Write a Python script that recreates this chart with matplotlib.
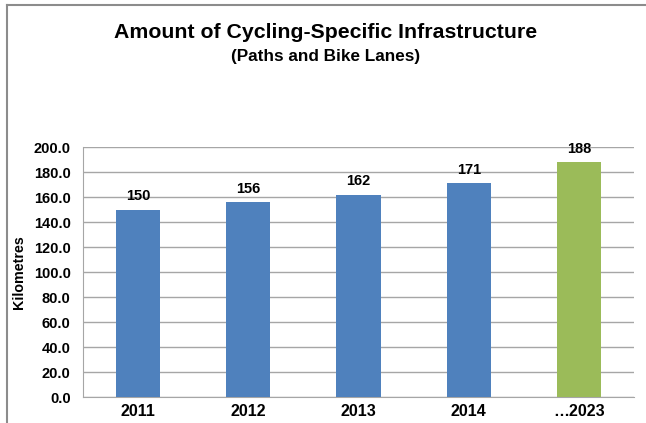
import matplotlib

matplotlib.use("Agg")

import matplotlib.pyplot as plt
from matplotlib.lines import Line2D

years = ["2011", "2012", "2013", "2014", "\u20262023"]
km = [150, 156, 162, 171, 188]
bar_colors = ["#4F81BD", "#4F81BD", "#4F81BD", "#4F81BD", "#9BBB59"]
yticks = [0, 20, 40, 60, 80, 100, 120, 140, 160, 180, 200]

plt.rcParams["font.family"] = ["Liberation Sans", "DejaVu Sans"]

W, H = 646, 423
fig = plt.figure(figsize=(W / 100, H / 100), dpi=100)
ax = fig.add_axes([83 / W, 1 - 397 / H, (634 - 83) / W, 250 / H])

x = range(len(years))
ax.bar(x, km, width=0.4, color=bar_colors, zorder=3)
for xi, v in zip(x, km):
    ax.text(xi, v + 5, f"{v}", ha="center", va="bottom",
            fontsize=10.5, fontweight="bold", zorder=2)

ax.set_xlim(-0.5, len(years) - 0.5)
ax.set_ylim(0, 200)
ax.set_yticks(yticks)
ax.set_yticklabels([f"{t:.1f}" for t in yticks], fontsize=10.5, fontweight="bold")
ax.set_xticks(list(x))
ax.set_xticklabels(years, fontsize=11.5, fontweight="bold")
ax.tick_params(axis="y", length=0, pad=9)
ax.tick_params(axis="x", length=0, pad=5)
ax.grid(axis="y", color="#A6A6A6", linewidth=1, zorder=0)
for s in ["top", "right"]:
    ax.spines[s].set_visible(False)
for s in ["left", "bottom"]:
    ax.spines[s].set_color("#A6A6A6")
ax.set_ylabel("Kilometres", fontsize=10.3, fontweight="bold")
ax.yaxis.set_label_coords((26 - 83) / 551, 0.5)

fig.text(326 / W, 1 - 33 / H, "Amount of Cycling-Specific Infrastructure",
         ha="center", va="center", fontsize=15.3, fontweight="bold")
fig.text(326 / W, 1 - 56 / H, "(Paths and Bike Lanes)",
         ha="center", va="center", fontsize=12.3, fontweight="bold")

# frame lines on the top and left edge
fig.add_artist(Line2D([7 / W, 1], [1 - 5 / H, 1 - 5 / H], color="#8C8C8C", linewidth=1.5))
fig.add_artist(Line2D([7 / W, 7 / W], [0, 1 - 5 / H], color="#8C8C8C", linewidth=1.5))

fig.savefig("out.png", dpi=100)
plt.close(fig)
